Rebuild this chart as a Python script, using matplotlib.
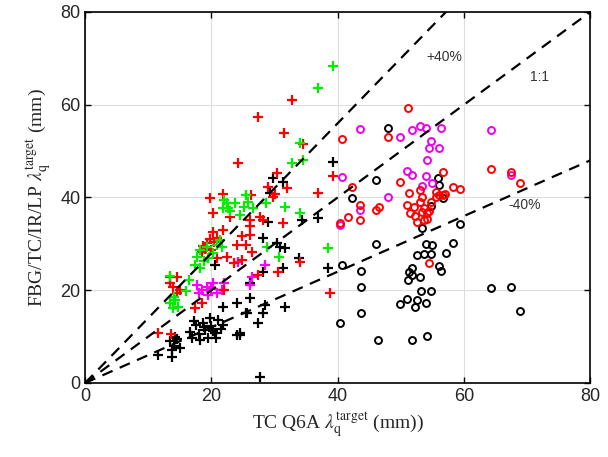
import matplotlib
matplotlib.use('Agg')
import matplotlib.pyplot as plt
import numpy as np

plt.rcParams['font.family'] = ['Liberation Sans', 'DejaVu Sans']
plt.rcParams['mathtext.fontset'] = 'stix'

# 圆圈数据 (右侧一团)
circ_black = [(48.0,55.0),(46.0,43.8),(42.2,39.9),(55.8,44.2),(56.1,42.7),(56.7,39.9),(54.8,38.1),
              (59.3,34.3),(53.4,33.4),(46.1,30.0),(53.9,30.0),(55.0,29.7),(58.3,30.2),(52.6,27.6),
              (53.6,27.8),(54.7,27.8),(57.2,28.0),(40.7,25.4),(43.7,24.1),(56.1,25.2),(56.3,24.1),
              (51.8,24.8),(51.3,23.9),(51.7,23.3),(51.2,22.2),(53.1,22.8),(43.7,20.7),(53.2,19.8),
              (54.7,19.8),(64.2,20.5),(67.4,20.7),(68.8,15.5),(51.0,18.1),(49.8,17.0),(52.5,17.9),
              (52.3,16.4),(53.9,17.2),(43.7,15.1),(40.4,12.9),(46.3,9.3),(51.8,9.3),(54.2,10.1)]
circ_red = [(51.2,59.3),(48.0,53.0),(40.7,52.6),(42.2,42.2),(49.8,43.3),(43.6,38.4),(46.0,37.3),
            (46.6,37.9),(41.7,35.8),(43.6,35.1),(40.3,34.5),(64.2,46.1),(67.4,45.5),(68.8,43.1),
            (58.3,42.2),(59.3,41.8),(56.7,45.5),(51.3,40.9),(53.1,41.6),(53.4,40.1),(56.7,40.5),
            (50.9,38.4),(52.0,37.9),(53.1,39.0),(53.6,37.7),(54.7,39.0),(51.5,36.6),(52.3,36.0),
            (53.4,36.9),(54.2,36.6),(52.6,34.7),(53.6,35.1),(54.2,35.3),(55.5,40.1),(56.0,40.5),
            (57.0,40.7),(54.5,37.0),(55.5,41.2),(54.4,25.9)]
circ_mag = [(43.6,54.7),(49.8,53.0),(51.8,54.5),(53.1,55.4),(53.9,55.0),(56.3,55.0),(54.7,52.2),
            (54.5,50.6),(56.1,50.6),(54.2,48.0),(51.0,45.7),(51.7,44.8),(53.9,44.6),(55.0,43.1),
            (53.4,42.5),(64.2,54.5),(40.7,44.4),(48.0,40.1),(43.6,37.3),(40.3,34.0),(67.4,44.8)]

# 十字数据 (左侧一团)
plus_red = [(24.2,47.4),(19.8,39.9),(21.9,40.7),(20.3,36.6),(23.0,35.8),(26.1,33.8),(20.3,32.5),
            (21.9,33.0),(18.7,29.5),(19.3,30.2),(19.8,31.0),(20.4,30.4),(20.9,31.3),(19.0,28.9),
            (18.5,28.2),(20.0,28.7),(24.9,31.7),(24.1,29.7),(25.4,29.7),(26.5,28.2),(22.5,27.2),
            (20.9,26.9),(13.5,22.8),(14.6,22.8),(13.5,21.6),(13.9,20.7),(14.6,19.4),(15.0,20.0),
            (18.5,17.2),(22.0,20.0),(17.4,16.2),(11.6,10.8),(13.6,10.6),(27.3,23.3),(32.8,61.0),
            (27.4,57.3),(31.5,53.9),(34.5,51.5),(39.3,44.6),(30.4,45.3),(29.0,42.2),(30.1,40.7),
            (31.9,42.0),(36.8,41.0),(29.8,40.1),(26.3,40.5),(27.7,35.8),(28.2,35.1),(26.1,35.1),
            (31.4,34.5),(34.1,26.1),(30.6,23.9),(38.7,19.4),(24.9,26.6),(23.5,25.9),(26.1,32.0)]
plus_green = [(22.5,38.8),(21.9,37.7),(22.7,37.7),(23.8,38.8),(25.4,40.5),(25.2,37.9),(25.8,39.0),
              (26.6,37.7),(22.0,39.5),(23.0,37.0),(21.4,30.8),(20.9,29.7),(19.3,29.3),(18.2,28.7),
              (17.7,27.2),(17.4,25.4),(18.2,24.8),(20.3,28.0),(21.7,29.3),(19.5,27.0),(18.8,26.2),
              (13.5,23.0),(15.9,19.8),(13.5,17.2),(14.3,17.9),(14.7,16.4),(13.9,16.2),(14.0,18.5),
              (16.5,22.3),(39.3,68.3),(36.8,63.6),(34.1,51.7),(32.8,47.4),(34.5,48.0),(25.5,40.5),
              (28.7,38.8),(31.7,37.9),(34.1,36.6),(28.8,29.3),(30.7,27.2),(38.5,29.1),(24.5,36.3)]
plus_mag = [(17.7,21.1),(18.5,20.0),(19.3,20.7),(20.3,21.6),(20.9,19.4),(21.7,20.0),(19.5,19.0),
            (18.0,19.5),(20.0,20.2),(22.0,21.5),(24.2,26.1),(26.5,22.8),(28.5,25.4),(26.1,21.1)]
plus_black = [(20.6,25.4),(26.1,21.6),(21.9,16.4),(24.1,17.2),(25.7,15.1),(27.3,12.9),(16.6,11.0),
              (17.5,12.5),(18.0,10.5),(18.6,13.0),(19.0,11.5),(19.5,9.8),(20.0,12.2),(20.5,10.8),
              (21.0,13.6),(21.5,11.7),(18.2,9.3),(19.8,14.0),(17.2,13.4),(20.8,9.6),(21.9,12.5),
              (16.9,9.8),(18.9,12.0),(20.3,11.3),(24.6,10.3),(13.5,9.0),(14.0,8.0),(14.5,9.5),
              (15.0,7.5),(13.8,7.1),(14.3,9.9),(11.6,6.0),(13.8,5.6),(27.7,1.3),(39.3,47.6),
              (29.8,44.2),(31.4,43.3),(29.2,41.0),(29.0,34.7),(34.4,35.1),(36.8,35.6),(28.2,31.3),
              (30.4,30.2),(31.7,29.1),(30.9,29.3),(33.9,26.9),(31.4,24.8),(28.2,24.0),(38.5,24.8),
              (26.1,18.3),(28.5,16.8),(28.1,15.1),(25.4,15.1),(31.7,16.4),(24.6,10.8),(24.1,10.3)]

ratios = [1.4, 1.0, 0.6]
ratio_labels = ['+40%', '1:1', '-40%']
label_pos = [(54.0, 69.5), (70.5, 65.0), (67.0, 37.5)]

fig = plt.figure(figsize=(6.08, 4.57), dpi=100)
ax = fig.add_axes([0.14, 0.162, 0.831, 0.812])

for pts, c in [(plus_black, 'k'), (plus_mag, '#ff00ff'), (plus_red, '#ff0000'), (plus_green, '#00ee00')]:
    a = np.array(pts)
    ax.plot(a[:, 0], a[:, 1], '+', color=c, ms=6.5, mew=1.6)
for pts, c in [(circ_black, 'k'), (circ_mag, '#ee00ee'), (circ_red, '#ff0000')]:
    a = np.array(pts)
    ax.plot(a[:, 0], a[:, 1], 'o', mfc='none', mec=c, ms=5, mew=1.4)

xx = np.array([0, 80])
for r in ratios:
    ax.plot(xx, r * xx, '--', color='k', lw=1.6, dashes=(5, 3.5))
for t, (x, y) in zip(ratio_labels, label_pos):
    ax.text(x, y, t, fontsize=10, color='#333333')

ax.set_xlim(0, 80)
ax.set_ylim(0, 80)
ax.set_xticks([0, 20, 40, 60, 80])
ax.set_yticks([0, 20, 40, 60, 80])
ax.grid(True, color='#dddddd', lw=0.8)
ax.set_axisbelow(True)
ax.tick_params(direction='in', labelsize=13, labelcolor='#262626', length=4, width=1,
               top=True, right=True, labeltop=False)
for s in ax.spines.values():
    s.set_linewidth(1.2)

ax.set_xlabel(r'TC Q6A $\lambda_{\rm q}^{\rm target}$ (mm))', fontsize=14, family='Liberation Serif', color='#262626')
ax.set_ylabel(r'FBG/TC/IR/LP $\lambda_{\rm q}^{\rm target}$ (mm)', fontsize=14, family='Liberation Serif', color='#262626')

plt.savefig('out.png', dpi=100)
